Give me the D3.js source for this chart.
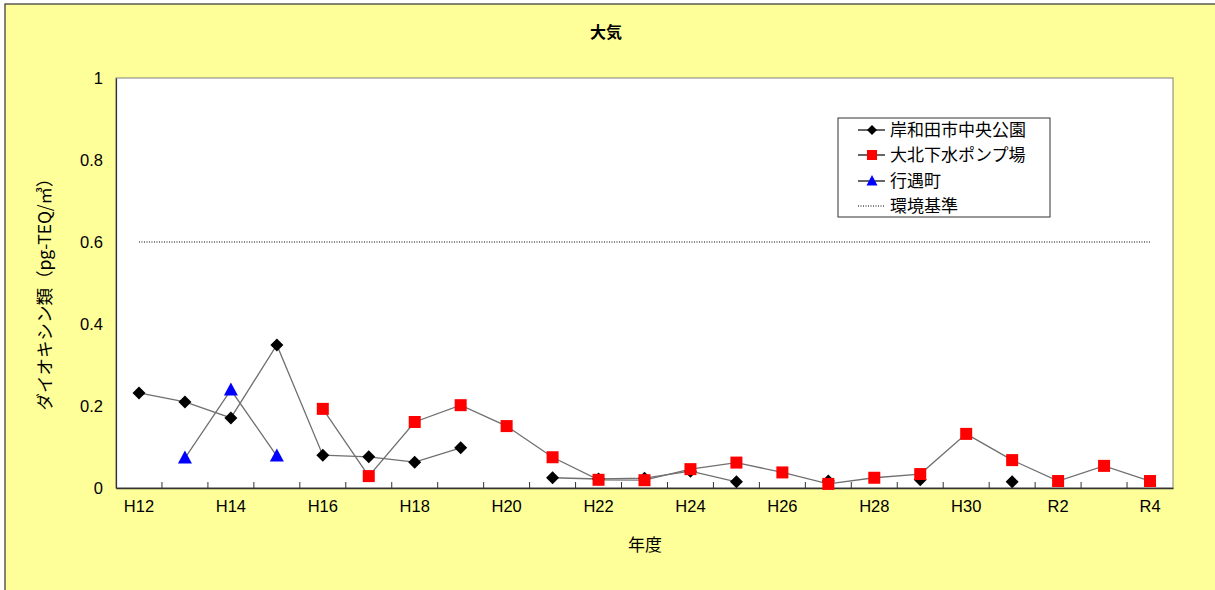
<!DOCTYPE html>
<html><head><meta charset="utf-8">
<script src="https://cdn.jsdelivr.net/npm/d3@7"></script>
<style>
html,body{margin:0;padding:0;background:#fff;}
svg{display:block;}
text{font-family:"Liberation Sans","Noto Sans CJK JP",sans-serif;}
</style></head>
<body>
<script>
const categories = ["H12","H13","H14","H15","H16","H17","H18","H19","H20","H21","H22","H23","H24","H25","H26","H27","H28","H29","H30","H31","R2","R3","R4"];
const tickLabels = ["H12","H14","H16","H18","H20","H22","H24","H26","H28","H30","R2","R4"];
const yTicks = [0,0.2,0.4,0.6,0.8,1];
const seriesNames = ["岸和田市中央公園","大北下水ポンプ場","行遇町","環境基準"];
const kishiwada = [0.232,0.21,0.171,0.349,0.08,0.076,0.063,0.098,null,0.025,0.022,0.024,0.041,0.015,null,0.017,null,0.02,null,0.015,null,null,null];
const ohkita   = [null,null,null,null,0.193,0.029,0.161,0.202,0.151,0.075,0.02,0.019,0.046,0.062,0.038,0.01,0.025,0.034,0.132,0.068,0.017,0.054,0.017];
const gyogu    = [null,0.073,0.239,0.078,null,null,null,null,null,null,null,null,null,null,null,null,null,null,null,null,null,null,null];
const standard = 0.6;

const W=1215,H=590;
const svg=d3.select("body").append("svg").attr("width",W).attr("height",H);
svg.append("rect").attr("x",5).attr("y",4).attr("width",W+10).attr("height",H+10)
  .attr("fill","#FFFF99").attr("stroke","#333").attr("stroke-width",1.2);

const L=116,R=1173,T=78,B=488;
const x=d3.scaleBand().domain(categories).range([L,R]);
const y=d3.scaleLinear().domain([0,1]).range([B,T]);
const cx=c=>x(c)+x.bandwidth()/2;

svg.append("rect").attr("x",L).attr("y",T).attr("width",R-L).attr("height",B-T)
  .attr("fill","#fff").attr("stroke","#808080").attr("stroke-width",1);

// x axis
const xAxis=d3.axisBottom(x).tickSize(0).tickFormat(d=>tickLabels.includes(d)?d:"");
const gx=svg.append("g").attr("transform",`translate(0,${B})`).call(xAxis);
gx.select(".domain").attr("stroke","#333").attr("stroke-width",1.5);
gx.selectAll("text").style("font-size","16.5px").attr("fill","#000").attr("dy","1.3em");
// inner tick marks at category boundaries
svg.append("g").selectAll("line").data(categories.slice(1)).join("line")
  .attr("x1",d=>x(d)).attr("x2",d=>x(d)).attr("y1",B).attr("y2",B-6)
  .attr("stroke","#333").attr("stroke-width",1);

// y axis
const yAxis=d3.axisLeft(y).tickValues(yTicks).tickSize(0).tickPadding(13).tickFormat(d=>d===0||d===1?String(d):d3.format(".1f")(d));
const gy=svg.append("g").attr("transform",`translate(${L},0)`).call(yAxis);
gy.select(".domain").attr("stroke","#333").attr("stroke-width",1.2);
gy.selectAll("text").style("font-size","16.5px").attr("fill","#000");

// standard line
svg.append("line").attr("x1",cx("H12")).attr("x2",cx("R4")).attr("y1",y(standard)).attr("y2",y(standard))
  .attr("stroke","#000").attr("stroke-width",1).attr("stroke-dasharray","1,1.5");

const line=d3.line().defined(d=>d.v!=null).x(d=>cx(d.c)).y(d=>y(d.v));
function series(vals){return categories.map((c,i)=>({c,v:vals[i]}));}

function drawSeries(vals,shape,fill){
  const s=series(vals);
  svg.append("path").datum(s).attr("d",line).attr("fill","none").attr("stroke","#707070").attr("stroke-width",1.3);
  const pts=s.filter(d=>d.v!=null);
  const g=svg.append("g");
  pts.forEach(d=>{
    const px=cx(d.c),py=y(d.v);
    if(shape==="diamond"){
      g.append("path").attr("d","M0,-6.5L6.5,0L0,6.5L-6.5,0Z").attr("transform",`translate(${px},${py})`).attr("fill",fill);
    } else if(shape==="square"){
      g.append("rect").attr("x",px-6).attr("y",py-6).attr("width",12).attr("height",12).attr("fill",fill);
    } else {
      g.append("path").attr("d","M0,-7.5L7,5.5L-7,5.5Z").attr("transform",`translate(${px},${py})`).attr("fill",fill);
    }
  });
}
drawSeries(gyogu,"triangle","#0000FF");
drawSeries(kishiwada,"diamond","#000");
drawSeries(ohkita,"square","#FF0000");

// title and axis titles
svg.append("text").attr("x",606).attr("y",38).attr("text-anchor","middle").style("font-size","16px")
  .attr("font-weight","bold").style("font-family","Noto Sans CJK JP").text("大気");
svg.append("text").attr("x",645).attr("y",551).attr("text-anchor","middle").style("font-size","17px")
  .style("font-family","Noto Sans CJK JP").text("年度");
svg.append("text").attr("transform","translate(51,290) rotate(-90)").attr("text-anchor","middle")
  .style("font-size","17.5px").style("font-family","Noto Sans CJK JP").text("ダイオキシン類（pg-TEQ/㎥）");

// legend
const lg=svg.append("g");
lg.append("rect").attr("x",838).attr("y",118).attr("width",212).attr("height",99).attr("fill","#fff").attr("stroke","#333").attr("stroke-width",1);
const ly=[130,155,181,206];
const shapes=["diamond","square","triangle","dotted"];
const colors=["#000","#FF0000","#0000FF","#000"];
seriesNames.forEach((n,i)=>{
  const yy=ly[i];
  if(shapes[i]==="dotted"){
    lg.append("line").attr("x1",858).attr("x2",885).attr("y1",yy).attr("y2",yy).attr("stroke","#000").attr("stroke-dasharray","1,1.5");
  } else {
    lg.append("line").attr("x1",858).attr("x2",885).attr("y1",yy).attr("y2",yy).attr("stroke","#000").attr("stroke-width",1.2);
    if(shapes[i]==="diamond") lg.append("path").attr("d","M0,-5L5,0L0,5L-5,0Z").attr("transform",`translate(872,${yy})`).attr("fill",colors[i]);
    else if(shapes[i]==="square") lg.append("rect").attr("x",867).attr("y",yy-5).attr("width",10).attr("height",10).attr("fill",colors[i]);
    else lg.append("path").attr("d","M0,-6L5.5,4.5L-5.5,4.5Z").attr("transform",`translate(872,${yy})`).attr("fill",colors[i]);
  }
  lg.append("text").attr("x",890).attr("y",yy+6).style("font-size","17px").style("font-family","Noto Sans CJK JP").text(n);
});
</script>
</body></html>
